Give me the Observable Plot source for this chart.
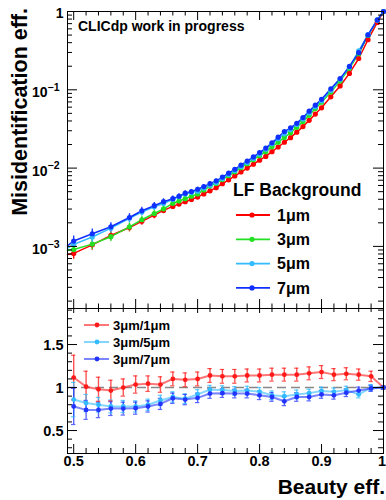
<!DOCTYPE html>
<html><head><meta charset="utf-8">
<script src="https://cdn.jsdelivr.net/npm/d3@7"></script>
<script src="https://cdn.jsdelivr.net/npm/@observablehq/plot@0.6"></script>
<style>
body{margin:0;background:#fff;}
#wrap{position:relative;width:386px;height:500px;overflow:hidden;background:#fff;}
#wrap svg{position:absolute;left:0;}
</style></head><body><div id="wrap"></div>
<script>
// ---------- data: top panel (misidentification efficiency vs beauty efficiency) ----------
const eff = [0.49,0.50,0.53,0.56,0.59,0.61,0.63,0.645,0.66,0.67,0.68,0.69,0.70,0.71,0.72,0.73,0.74,0.75,0.76,0.77,0.78,0.79,0.80,0.81,0.82,0.83,0.84,0.85,0.86,0.87,0.88,0.89,0.90,0.915,0.93,0.945,0.96,0.975,0.99,1.00];
const misid1um = [0.00079,0.000813,0.001047,0.00138,0.00174,0.00209,0.00251,0.00288,0.00324,0.00347,0.00372,0.00398,0.00427,0.00468,0.00513,0.00562,0.00631,0.00708,0.00794,0.00891,0.0100,0.0112,0.0126,0.0141,0.0162,0.0186,0.0214,0.0245,0.0288,0.0339,0.0407,0.0490,0.0589,0.0813,0.112,0.162,0.251,0.437,0.724,1];
const misid3um = [0.00089,0.000912,0.00107,0.00133,0.00178,0.00219,0.00263,0.00302,0.00355,0.00380,0.00407,0.00437,0.00468,0.00525,0.00589,0.00638,0.00713,0.00800,0.00897,0.0101,0.0114,0.0128,0.0144,0.0162,0.0187,0.0214,0.0246,0.0282,0.0332,0.0393,0.0474,0.0575,0.0695,0.0940,0.130,0.188,0.289,0.495,0.776,1];
const misid5um = [0.00095,0.00106,0.00132,0.00171,0.00228,0.00275,0.00320,0.00353,0.00399,0.00432,0.00468,0.00488,0.00508,0.00555,0.00604,0.00656,0.00735,0.00828,0.00935,0.0105,0.0118,0.0133,0.0151,0.0174,0.0205,0.0237,0.0274,0.0310,0.0361,0.0423,0.0507,0.0607,0.0724,0.0986,0.136,0.196,0.314,0.507,0.776,1];
const misid7um = [0.00102,0.00117,0.00145,0.00178,0.00234,0.00285,0.00331,0.00372,0.00407,0.00437,0.00479,0.00501,0.00537,0.00581,0.00634,0.00687,0.00767,0.00861,0.00966,0.0109,0.0123,0.0139,0.0158,0.0180,0.0210,0.0248,0.0293,0.0327,0.0373,0.0442,0.0533,0.0637,0.0755,0.103,0.139,0.199,0.298,0.502,0.780,1];
const topRelErr = [0,0.16,0.15,0.13,0.12,0.11,0.10,0.09,0.08,0.075,0.07,0.065,0.06,0.055,0.05,0.05,0.045,0.045,0.04,0.04,0.035,0.035,0.03,0.03,0.03,0.028,0.026,0.025,0.024,0.022,0.02,0.02,0.018,0.016,0.014,0.012,0.01,0.008,0.005,0];
const seriesNames = ["1\u03bcm","3\u03bcm","5\u03bcm","7\u03bcm"];
const seriesColors = ["#ff0000","#22e022","#33bbff","#1030ff"];

// ---------- data: ratio panel ----------
const ratioEff = [0.50,0.52,0.54,0.56,0.58,0.60,0.62,0.64,0.66,0.68,0.70,0.72,0.74,0.76,0.78,0.80,0.82,0.84,0.86,0.88,0.90,0.92,0.94,0.96,0.98,1.00];
const ratio3over1 = [1.116,1.01,0.98,0.965,1.0,1.035,1.045,1.035,1.10,1.09,1.10,1.14,1.13,1.13,1.14,1.14,1.15,1.15,1.15,1.165,1.18,1.15,1.16,1.15,1.13,1.0];
const err3over1 = [0.26,0.18,0.14,0.12,0.10,0.10,0.09,0.09,0.08,0.08,0.08,0.08,0.08,0.08,0.075,0.075,0.075,0.075,0.075,0.075,0.075,0.07,0.07,0.065,0.06,0.02];
const ratio3over5 = [0.86,0.82,0.80,0.78,0.78,0.78,0.80,0.85,0.89,0.87,0.92,0.975,0.97,0.96,0.965,0.95,0.91,0.90,0.92,0.935,0.96,0.95,0.97,0.92,1.0,1.0];
const err3over5 = [0.20,0.10,0.085,0.075,0.07,0.065,0.065,0.06,0.06,0.055,0.055,0.05,0.05,0.05,0.05,0.05,0.05,0.05,0.05,0.045,0.045,0.045,0.045,0.04,0.035,0.02];
const ratio3over7 = [0.78,0.74,0.74,0.755,0.755,0.76,0.78,0.81,0.875,0.86,0.88,0.93,0.935,0.93,0.93,0.91,0.89,0.84,0.89,0.89,0.92,0.91,0.94,0.965,0.99,1.0];
const err3over7 = [0.21,0.11,0.09,0.08,0.075,0.07,0.065,0.065,0.06,0.06,0.055,0.055,0.05,0.05,0.05,0.05,0.05,0.05,0.05,0.045,0.045,0.045,0.045,0.04,0.035,0.02];
const ratioNames = ["3\u03bcm/1\u03bcm","3\u03bcm/5\u03bcm","3\u03bcm/7\u03bcm"];
const ratioColors = ["#ff1a1a","#33bbff","#2233ff"];

// ---------- ticks ----------
const xMajor = [0.5,0.6,0.7,0.8,0.9,1.0];
const xMajorLabels = ["0.5","0.6","0.7","0.8","0.9","1"];
const xMinor = [0.52,0.54,0.56,0.58,0.62,0.64,0.66,0.68,0.72,0.74,0.76,0.78,0.82,0.84,0.86,0.88,0.92,0.94,0.96,0.98];
const yTopMajor = [1,0.1,0.01,0.001];
const yTopBase = ["1","10","10","10"];
const yTopExp = ["","\u22121","\u22122","\u22123"];
const yTopMinor = [0.0002,0.0003,0.0004,0.0005,0.0006,0.0007,0.0008,0.0009,0.002,0.003,0.004,0.005,0.006,0.007,0.008,0.009,0.02,0.03,0.04,0.05,0.06,0.07,0.08,0.09,0.2,0.3,0.4,0.5,0.6,0.7,0.8,0.9];
const yBotMajor = [0.5,1,1.5];
const yBotLabels = ["0.5","1","1.5"];
const yBotMinor = [0.3,0.4,0.6,0.7,0.8,0.9,1.1,1.2,1.3,1.4,1.6,1.7,1.8,1.9];

const FONT = '"Liberation Sans", Arial, Helvetica, sans-serif';
const W = 386;
const wrap = document.getElementById("wrap");

// ---------- top panel ----------
const topVals = [misid1um, misid3um, misid5um, misid7um];
const topRows = seriesNames.flatMap((s, k) => eff.map((e, i) => ({s, eff: e, v: topVals[k][i], err: topRelErr[i], i})));
const tIH = 297, tIW = 316;
const topSvg = Plot.plot({
  width: W, height: 312,
  marginTop: 11, marginBottom: 4, marginLeft: 67, marginRight: 3,
  style: {background: "transparent", fontFamily: FONT, overflow: "visible"},
  x: {type: "linear", domain: [0.49, 1.0], axis: null},
  y: {type: "log", domain: [1.61e-4, 1], axis: null},
  color: {domain: seriesNames, range: seriesColors},
  marks: [
    Plot.ruleX(topRows, {filter: d => d.i > 0 && d.err > 0, x: "eff", y1: d => d.v * (1 - d.err), y2: d => d.v * (1 + d.err), stroke: "s", strokeWidth: 1.3}),
    Plot.line(topRows, {x: "eff", y: "v", z: "s", stroke: "s", strokeWidth: 1.5}),
    Plot.dot(topRows, {filter: d => d.i > 0, x: "eff", y: "v", r: 2.6, fill: "s", stroke: null}),
    Plot.ruleX(xMajor, {x: d => d, insetTop: tIH - 9, stroke: "#000"}),
    Plot.ruleX(xMajor, {x: d => d, insetBottom: tIH - 9, stroke: "#000"}),
    Plot.ruleX(xMinor, {x: d => d, insetTop: tIH - 4.5, stroke: "#000"}),
    Plot.ruleX(xMinor, {x: d => d, insetBottom: tIH - 4.5, stroke: "#000"}),
    Plot.ruleY(yTopMajor, {y: d => d, insetRight: tIW - 10, stroke: "#000"}),
    Plot.ruleY(yTopMajor, {y: d => d, insetLeft: tIW - 10, stroke: "#000"}),
    Plot.ruleY(yTopMinor, {y: d => d, insetRight: tIW - 5, stroke: "#000"}),
    Plot.ruleY(yTopMinor, {y: d => d, insetLeft: tIW - 5, stroke: "#000"}),
    Plot.text(yTopMajor, {filter: (d, i) => i === 0, y: d => d, text: (d, i) => yTopBase[i], frameAnchor: "left", textAnchor: "end", dx: -4, dy: 2, fontSize: 14, fontWeight: "bold", fill: "#000"}),
    Plot.text(yTopMajor, {filter: (d, i) => i > 0, y: d => d, text: (d, i) => yTopBase[i], frameAnchor: "left", textAnchor: "end", dx: -20, dy: 3, fontSize: 14, fontWeight: "bold", fill: "#000"}),
    Plot.text(yTopMajor, {filter: (d, i) => i > 0, y: d => d, text: (d, i) => yTopExp[i], frameAnchor: "left", textAnchor: "start", dx: -20, dy: -2, fontSize: 10.5, fontWeight: "bold", fill: "#000"}),
    Plot.frame({stroke: "#000", strokeWidth: 1})
  ]
});
topSvg.style.top = "0px";
wrap.appendChild(topSvg);

// ---------- ratio panel ----------
const rVals = [ratio3over1, ratio3over5, ratio3over7];
const rErrs = [err3over1, err3over5, err3over7];
const ratioRows = ratioNames.flatMap((s, k) => ratioEff.map((e, i) => ({s, eff: e, v: rVals[k][i], err: rErrs[k][i]})));
const bIH = 145, bIW = 316;
const lastX = xMajor.length - 1;
const botSvg = Plot.plot({
  width: W, height: 200,
  marginTop: 8, marginBottom: 47, marginLeft: 67, marginRight: 3,
  style: {background: "transparent", fontFamily: FONT, overflow: "visible"},
  x: {type: "linear", domain: [0.49, 1.0], axis: null},
  y: {type: "linear", domain: [0.233, 1.919], axis: null},
  color: {domain: ratioNames, range: ratioColors},
  marks: [
    Plot.ruleY([1], {y: d => d, stroke: "#888", strokeWidth: 1.6, strokeDasharray: "9,5"}),
    Plot.ruleX(ratioRows, {x: "eff", y1: d => d.v - d.err, y2: d => d.v + d.err, stroke: "s", strokeWidth: 1.4, strokeOpacity: 0.75}),
    Plot.ruleY(ratioRows, {y: d => d.v + d.err, x1: d => d.eff - 0.0035, x2: d => d.eff + 0.0035, stroke: "s", strokeWidth: 1.2, strokeOpacity: 0.75}),
    Plot.ruleY(ratioRows, {y: d => d.v - d.err, x1: d => d.eff - 0.0035, x2: d => d.eff + 0.0035, stroke: "s", strokeWidth: 1.2, strokeOpacity: 0.75}),
    Plot.line(ratioRows, {x: "eff", y: "v", z: "s", stroke: "s", strokeWidth: 2, strokeOpacity: 0.6}),
    Plot.dot(ratioRows, {x: "eff", y: "v", r: 2.4, fill: "s", stroke: null}),
    Plot.ruleX(xMajor, {x: d => d, insetTop: bIH - 9, stroke: "#000"}),
    Plot.ruleX(xMajor, {x: d => d, insetBottom: bIH - 5, stroke: "#000"}),
    Plot.ruleX(xMinor, {x: d => d, insetTop: bIH - 5, stroke: "#000"}),
    Plot.ruleX(xMinor, {x: d => d, insetBottom: bIH - 4, stroke: "#000"}),
    Plot.ruleY(yBotMajor, {y: d => d, insetRight: bIW - 10, stroke: "#000"}),
    Plot.ruleY(yBotMajor, {y: d => d, insetLeft: bIW - 10, stroke: "#000"}),
    Plot.ruleY(yBotMinor, {y: d => d, insetRight: bIW - 5, stroke: "#000"}),
    Plot.ruleY(yBotMinor, {y: d => d, insetLeft: bIW - 5, stroke: "#000"}),
    Plot.text(xMajor, {filter: (d, i) => i < lastX, x: d => d, text: (d, i) => xMajorLabels[i], frameAnchor: "bottom", dy: 12, fontSize: 14.5, fontWeight: "bold", fill: "#000"}),
    Plot.text(xMajor, {filter: (d, i) => i === lastX, x: d => d, text: (d, i) => xMajorLabels[i], frameAnchor: "bottom", textAnchor: "end", dx: 2.5, dy: 12, fontSize: 14.5, fontWeight: "bold", fill: "#000"}),
    Plot.text(yBotMajor, {y: d => d, text: (d, i) => yBotLabels[i], frameAnchor: "left", textAnchor: "end", dx: -4, dy: 1, fontSize: 14.5, fontWeight: "bold", fill: "#000"}),
    Plot.frame({stroke: "#000", strokeWidth: 1})
  ]
});
botSvg.style.top = "300px";
wrap.appendChild(botSvg);

// ---------- titles & legends ----------
const ts = d3.select(topSvg);
ts.append("text").attr("transform", "translate(27,8) rotate(-90)")
  .attr("text-anchor", "end").attr("font-family", FONT).attr("font-weight", "bold").attr("font-size", 21.5)
  .attr("fill", "#000").text("Misidentification eff.");
ts.append("text").attr("x", 78).attr("y", 31).attr("text-anchor", "start").attr("font-family", FONT).attr("font-weight", "bold")
  .attr("font-size", 14).attr("fill", "#000").text("CLICdp work in progress");
ts.append("text").attr("x", 233).attr("y", 196).attr("text-anchor", "start").attr("font-family", FONT).attr("font-weight", "bold")
  .attr("font-size", 17.5).attr("fill", "#000").text("LF Background");
seriesNames.forEach((s, k) => {
  const yc = 215 + k * 24.3;
  const g = ts.append("g");
  g.append("line").attr("x1", 236).attr("x2", 270).attr("y1", yc).attr("y2", yc).attr("stroke", seriesColors[k]).attr("stroke-width", 1.8);
  g.append("circle").attr("cx", 252).attr("cy", yc).attr("r", 2.6).attr("fill", seriesColors[k]);
  g.append("text").attr("x", 277).attr("y", yc + 5.8).attr("text-anchor", "start").attr("font-family", FONT).attr("font-weight", "bold")
    .attr("font-size", 16).attr("fill", "#000").text(s);
});

const bs = d3.select(botSvg);
ratioNames.forEach((s, k) => {
  const yc = 25 + k * 17;
  const g = bs.append("g");
  g.append("line").attr("x1", 84).attr("x2", 109).attr("y1", yc).attr("y2", yc).attr("stroke", ratioColors[k]).attr("stroke-width", 2).attr("stroke-opacity", 0.6);
  g.append("circle").attr("cx", 97).attr("cy", yc).attr("r", 2.4).attr("fill", ratioColors[k]);
  g.append("text").attr("x", 113).attr("y", yc + 4.7).attr("text-anchor", "start").attr("font-family", FONT).attr("font-weight", "bold")
    .attr("font-size", 13).attr("fill", "#000").text(s);
});
bs.append("text").attr("x", 385).attr("y", 194).attr("text-anchor", "end").attr("font-family", FONT)
  .attr("font-weight", "bold").attr("font-size", 21).attr("fill", "#000").text("Beauty eff.");
</script></body></html>
